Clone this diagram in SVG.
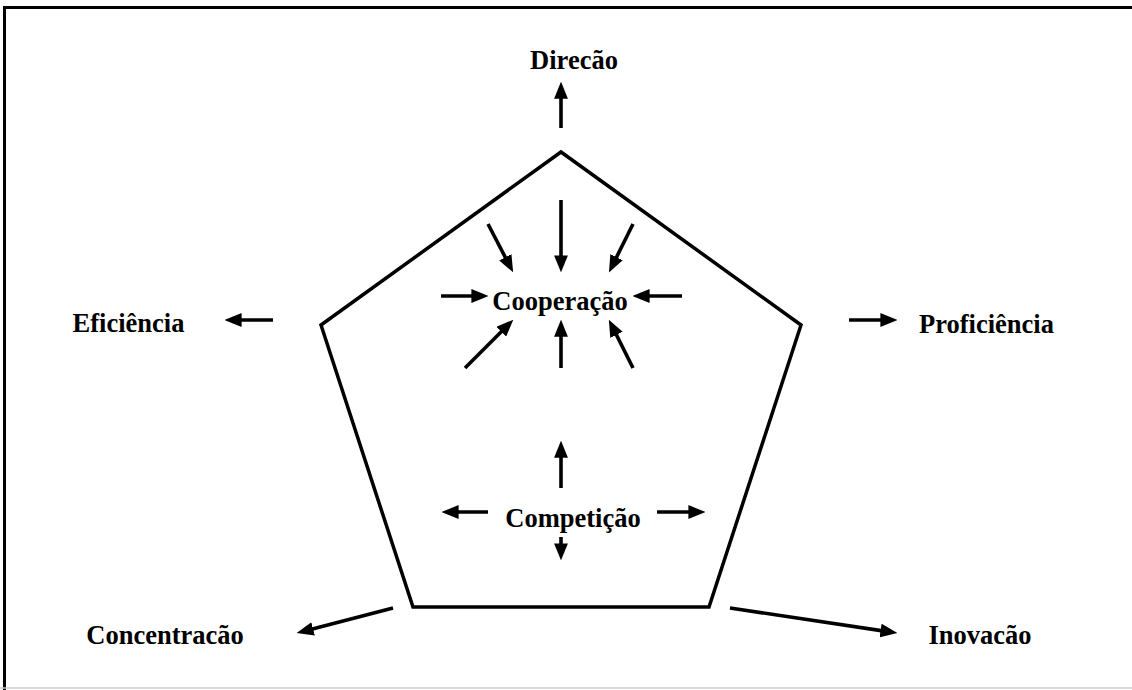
<svg xmlns="http://www.w3.org/2000/svg" width="1132" height="690" viewBox="0 0 1132 690">
<style>
.t{font-family:"Liberation Serif","Times New Roman",serif;font-weight:bold;font-size:26.5px;fill:#000;text-anchor:middle}
.a{stroke:#000;stroke-width:3.6;fill:none;marker-end:url(#ah)}
</style>
<defs>
<marker id="ah" markerUnits="userSpaceOnUse" markerWidth="17" markerHeight="14" viewBox="0 0 16 13" refX="10" refY="6.5" orient="auto">
<path d="M0,0 L16,6.5 L0,13 z" fill="#000"/>
</marker>
</defs>
<rect width="1132" height="690" fill="#fff"/>
<path d="M4.5,690 V7.5 H1132" fill="none" stroke="#000" stroke-width="3"/>
<line x1="0" y1="688" x2="1132" y2="688" stroke="#ccc" stroke-width="1.5"/>
<g id="pentagon">
<polygon points="561,152 801,325 709,607 413,607 321,325" fill="none" stroke="#000" stroke-width="3.5" stroke-linejoin="miter"/>
</g>
<g id="cooperacao"><text class="t" x="560" y="310">Cooperação</text></g>
<g id="competicao"><text class="t" x="573" y="527">Competição</text></g>
<g id="direcao"><text class="t" x="574" y="69">Direcão</text></g>
<g id="eficiencia"><text class="t" x="128.5" y="332">Eficiência</text></g>
<g id="proficiencia"><text class="t" x="986.5" y="333">Proficiência</text></g>
<g id="concentracao"><text class="t" x="165" y="644">Concentracão</text></g>
<g id="inovacao"><text class="t" x="980" y="644">Inovacão</text></g>
<g id="connectors">
<line class="a" x1="561" y1="128" x2="561" y2="88"/>
<line class="a" x1="273" y1="320" x2="231" y2="320"/>
<line class="a" x1="849" y1="320" x2="891" y2="320"/>
<line class="a" x1="393" y1="608" x2="302.8" y2="631.5"/>
<line class="a" x1="730" y1="608" x2="891.1" y2="632.1"/>
<line class="a" x1="561" y1="200" x2="561" y2="266"/>
<line class="a" x1="488" y1="224" x2="510.2" y2="266.7"/>
<line class="a" x1="633" y1="224" x2="611.8" y2="266.7"/>
<line class="a" x1="441" y1="296" x2="482" y2="296"/>
<line class="a" x1="682" y1="296" x2="639" y2="296"/>
<line class="a" x1="465" y1="368" x2="508.8" y2="324.2"/>
<line class="a" x1="561" y1="368" x2="561" y2="326"/>
<line class="a" x1="633" y1="368" x2="611.7" y2="325.4"/>
<line class="a" x1="561" y1="488" x2="561" y2="447"/>
<line class="a" x1="488" y1="512" x2="448" y2="512"/>
<line class="a" x1="657" y1="512" x2="699" y2="512"/>
<line class="a" x1="561" y1="537" x2="561" y2="554"/>
</g>
</svg>
